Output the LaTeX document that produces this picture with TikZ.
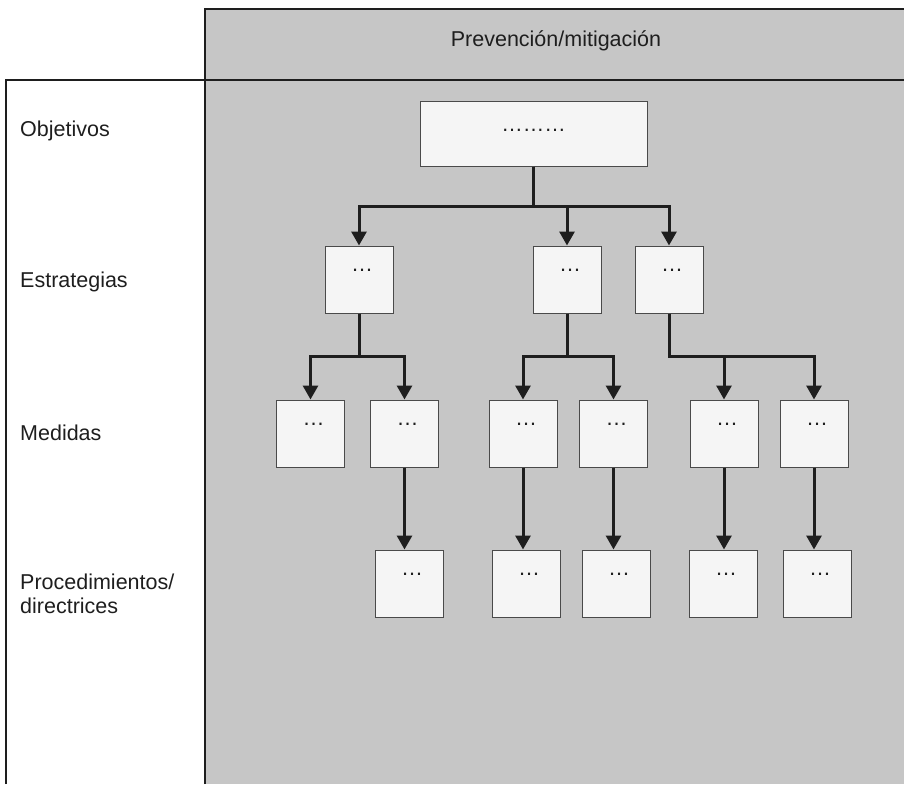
\documentclass[tikz,border=0pt]{standalone}
\usepackage{fontspec}
\setmainfont{Liberation Sans}
\usetikzlibrary{arrows.meta}
\definecolor{bggray}{HTML}{C6C6C6}
\definecolor{boxfill}{HTML}{F5F5F5}
\definecolor{ink}{HTML}{1E1E1E}
\definecolor{boxline}{HTML}{4A4A4A}
\begin{document}
\begin{tikzpicture}[x=1pt,y=-1pt,
  panel/.style={draw=ink,line width=2.2pt},
  cell/.style={draw=boxline,fill=boxfill,line width=1pt,inner sep=0pt,
    minimum width=68pt,text height=25pt,text depth=42pt,
    font=\fontsize{22}{24}\selectfont,text=ink},
  topcell/.style={draw=boxline,fill=boxfill,line width=1pt,inner sep=0pt,
    minimum width=227pt,text height=30pt,text depth=35pt,
    font=\fontsize{21.5}{24}\selectfont,text=ink},
  rowlabel/.style={anchor=west,align=left,inner sep=0pt,text=ink,
    font=\fontsize{21.5}{24}\selectfont},
  arr/.style={draw=ink,line width=3pt,
    -{Triangle[width=15pt,length=14pt]}}
]
\useasboundingbox (0,0) rectangle (904,784);
% panels
\fill[bggray] (205,9) rectangle (904,784);
\draw[panel] (205,784) -- (205,9) -- (904,9);
\draw[panel] (6,784) -- (6,80) -- (904,80);
% header and row labels
\node[text=ink,font=\fontsize{21.5}{24}\selectfont] (head) at (556,41) {Prevención/mitigación};
\node[rowlabel] (lobj) at (20,131) {Objetivos};
\node[rowlabel] (lest) at (20,282) {Estrategias};
\node[rowlabel] (lmed) at (20,433) {Medidas};
\node[rowlabel] (lpro) at (20,594) {Procedimientos/\\directrices};
% junction levels
\coordinate (j0) at (0,206);
\coordinate (j1) at (0,356);
% boxes
\node[topcell] (T) at (533.5,133.5) {………};
\node[cell] (s1) at (359,279.5) {\hspace*{6pt}…};
\node[cell] (s2) at (567,279.5) {\hspace*{6pt}…};
\node[cell] (s3) at (669,279.5) {\hspace*{6pt}…};
\node[cell] (m1) at (310.5,433.5) {\hspace*{6pt}…};
\node[cell] (m2) at (404.5,433.5) {\hspace*{6pt}…};
\node[cell] (m3) at (523,433.5) {\hspace*{6pt}…};
\node[cell] (m4) at (613.5,433.5) {\hspace*{6pt}…};
\node[cell] (m5) at (724,433.5) {\hspace*{6pt}…};
\node[cell] (m6) at (814,433.5) {\hspace*{6pt}…};
\node[cell] (p1) at (409,583.5) {\hspace*{6pt}…};
\node[cell] (p2) at (526,583.5) {\hspace*{6pt}…};
\node[cell] (p3) at (616,583.5) {\hspace*{6pt}…};
\node[cell] (p4) at (723,583.5) {\hspace*{6pt}…};
\node[cell] (p5) at (817,583.5) {\hspace*{6pt}…};
% connectors
\foreach \t in {s1,s2,s3}
  \draw[arr] (T.south) -- (T.south |- j0) -| (\t.north);
\foreach \t in {m1,m2}
  \draw[arr] (s1.south) -- (s1.south |- j1) -| (\t.north);
\foreach \t in {m3,m4}
  \draw[arr] (s2.south) -- (s2.south |- j1) -| (\t.north);
\foreach \t in {m5,m6}
  \draw[arr] (s3.south) -- (s3.south |- j1) -| (\t.north);
\draw[arr] (m2.south) -- (m2.south |- p1.north);
\draw[arr] (m3.south) -- (m3.south |- p2.north);
\draw[arr] (m4.south) -- (m4.south |- p3.north);
\draw[arr] (m5.south) -- (m5.south |- p4.north);
\draw[arr] (m6.south) -- (m6.south |- p5.north);
\end{tikzpicture}
\end{document}
